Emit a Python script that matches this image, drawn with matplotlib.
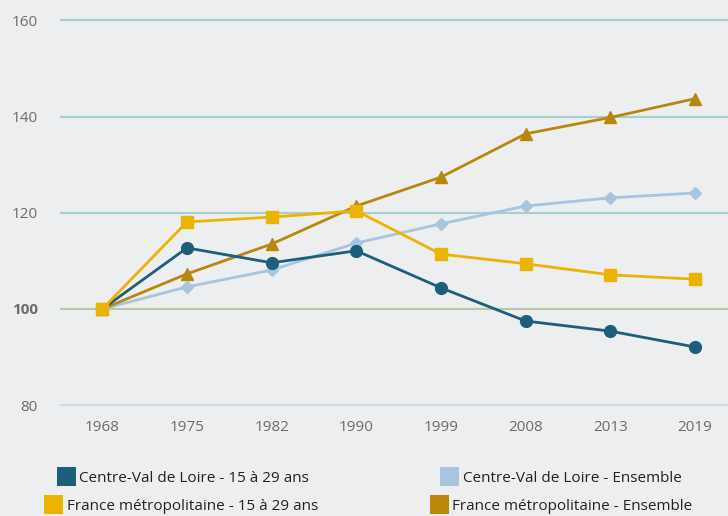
import matplotlib
matplotlib.use("Agg")
import matplotlib.pyplot as plt
from matplotlib.patches import Rectangle

years = ["1968", "1975", "1982", "1990", "1999", "2008", "2013", "2019"]
centre_jeunes = [100, 112.7, 109.6, 112.1, 104.4, 97.5, 95.4, 92.1]
centre_ensemble = [100, 104.6, 108.1, 113.7, 117.7, 121.4, 123.1, 124.1]
france_jeunes = [100, 118.1, 119.1, 120.4, 111.4, 109.4, 107.1, 106.2]
france_ensemble = [100, 107.3, 113.5, 121.4, 127.4, 136.4, 139.8, 143.7]
labels = ["Centre-Val de Loire - 15 à 29 ans", "Centre-Val de Loire - Ensemble",
          "France métropolitaine - 15 à 29 ans", "France métropolitaine - Ensemble"]
yticks = [80, 100, 120, 140, 160]

c_dark = "#1d5e7b"
c_light = "#a8c5df"
c_yellow = "#ebb400"
c_gold = "#b9870c"
bg = "#eceef0"

plt.rcParams['font.family'] = ['Open Sans', 'DejaVu Sans']

W, H = 728, 516
fig = plt.figure(figsize=(W/100, H/100), dpi=100, facecolor=bg)

def yp(v):
    return 309 - (v - 100) * 4.8125

ylo, yhi = 79.5, 160.5
ax_left, ax_right = 60, 728
ax_top, ax_bot = yp(yhi), yp(ylo)
ax = fig.add_axes([ax_left/W, 1 - ax_bot/H, (ax_right-ax_left)/W, (ax_bot-ax_top)/H])
ax.set_facecolor(bg)
for s in ax.spines.values():
    s.set_visible(False)

x = list(range(len(years)))
ax.set_xlim(-0.5, 7.39)
ax.set_ylim(ylo, yhi)

grid_colors = {80: "#cdd9ea", 100: "#b7caa3", 120: "#a9cfcd", 140: "#a9cfcd", 160: "#a9cfcd"}
for v in yticks:
    ax.axhline(v, color=grid_colors[v], lw=1.5, zorder=1)

lw = 2.0
ax.plot(x, centre_ensemble, color=c_light, lw=lw, marker="D", ms=6, zorder=3)
ax.plot(x, france_ensemble, color=c_gold, lw=lw, marker="^", ms=9, zorder=4)
ax.plot(x, centre_jeunes, color=c_dark, lw=lw, marker="o", ms=8.5, zorder=5)
ax.plot(x, france_jeunes, color=c_yellow, lw=lw, marker="s", ms=8.5, zorder=6)

ax.set_xticks(x)
ax.set_xticklabels(years)
ax.set_yticks(yticks)
ax.set_yticklabels([str(v) for v in yticks])
ax.tick_params(axis="both", length=0, colors="#6b6b6b", labelsize=11)
ax.tick_params(axis="y", pad=16)
ax.tick_params(axis="x", pad=9)
for t in ax.get_yticklabels():
    if t.get_text() == "100":
        t.set_fontweight("bold")

# legend
leg = [(57, 467, c_dark, labels[0], 79, 478),
       (440, 467, c_light, labels[1], 463, 478),
       (44, 495, c_yellow, labels[2], 67, 506),
       (430, 495, c_gold, labels[3], 452, 506)]
for (sx, sy, col, lab, tx, ty) in leg:
    fig.patches.append(Rectangle((sx/W, 1 - (sy+19)/H), 19/W, 19/H, transform=fig.transFigure,
                                 facecolor=col, edgecolor="none"))
    fig.text(tx/W, 1 - ty/H, lab, fontsize=11, color="#222222", va="center", ha="left")

fig.savefig("out.png", dpi=100, facecolor=bg)
